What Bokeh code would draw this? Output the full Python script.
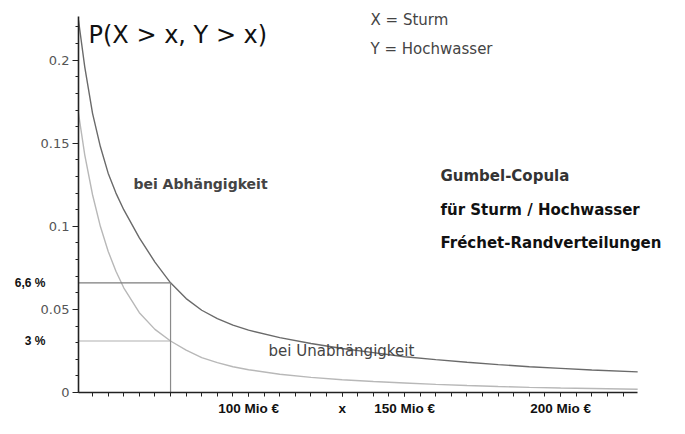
from bokeh.plotting import figure
from bokeh.models import Range1d, FixedTicker, Label, LinearAxis
from bokeh.embed import file_html
from bokeh.resources import INLINE

# Loss level x (Mio €)
x_vals = [45.5, 47.5, 50, 52.5, 55, 57.5, 60, 65, 70, 75, 80, 85, 90, 95, 100,
          110, 120, 130, 140, 150, 160, 170, 180, 190, 200, 210, 224.7]
# P(X > x, Y > x) with dependence (Gumbel copula)
p_dependent = [0.224, 0.196, 0.168, 0.148, 0.132, 0.120, 0.110, 0.093, 0.0785, 0.066,
               0.0565, 0.0495, 0.0445, 0.0405, 0.0375, 0.0330, 0.0295, 0.0265, 0.024, 0.0215,
               0.0198, 0.0182, 0.0168, 0.0155, 0.0145, 0.0135, 0.0124]
# P(X > x, Y > x) under independence
p_independent = [0.168, 0.143, 0.119, 0.100, 0.085, 0.073, 0.063, 0.048, 0.038, 0.031,
                 0.0255, 0.021, 0.018, 0.0155, 0.0137, 0.011, 0.0091, 0.0077, 0.0066, 0.0057,
                 0.0049, 0.0042, 0.0036, 0.0031, 0.0027, 0.0024, 0.002]

x_marker = 75
marker_dep = 0.066
marker_indep = 0.031
marker_labels = {0.066: "6,6 %", 0.031: "3 %"}

x_ticks = [100, 130, 150, 200]
x_tick_labels = ["100 Mio €", "x", "150 Mio €", "200 Mio €"]
y_ticks = [0, 0.05, 0.1, 0.15, 0.2]
y_tick_labels = ["0", "0.05", "0.1", "0.15", "0.2"]

x_start, x_last = 45.5, 224.7
y_top = 0.2265

p = figure(width=669, height=418, output_backend="svg", toolbar_location=None,
           x_range=Range1d(45.5, 234.9), y_range=Range1d(0, 0.2359),
           min_border_left=78, min_border_right=0, min_border_top=0, min_border_bottom=24)
p.outline_line_color = None
p.xgrid.visible = False
p.ygrid.visible = False
p.background_fill_color = "white"

# curves
p.line(x_vals, p_dependent, line_color="#6a6a6a", line_width=1.4)
p.line(x_vals, p_independent, line_color="#b8b8b8", line_width=1.4)

# reference lines
p.line([x_start, x_marker], [marker_dep, marker_dep], line_color="#7c7c7c", line_width=1.2)
p.line([x_start, x_marker], [marker_indep, marker_indep], line_color="#b0b0b0", line_width=1.2)
p.line([x_marker, x_marker], [0, marker_dep], line_color="#8a8a8a", line_width=1.2)

# x axis
xa = p.xaxis[0]
xa.bounds = (x_start, x_last)
xa.ticker = FixedTicker(ticks=x_ticks, minor_ticks=list(range(50, 225, 5)))
xa.major_label_overrides = {t: l for t, l in zip(x_ticks, x_tick_labels)}
xa.axis_line_color = "#222222"
xa.axis_line_width = 1.6
xa.major_tick_line_color = "#222222"
xa.minor_tick_line_color = "#222222"
xa.major_tick_out = 4
xa.major_tick_in = 0
xa.minor_tick_out = 4
xa.minor_tick_in = 0
xa.major_label_text_font = "Liberation Sans"
xa.major_label_text_font_style = "bold"
xa.major_label_text_font_size = "13.5px"
xa.major_label_text_color = "#111111"
xa.major_label_standoff = 4

# y axis
ya = p.yaxis[0]
ya.bounds = (0, y_top)
ya.ticker = FixedTicker(ticks=y_ticks, minor_ticks=[i / 100 for i in range(0, 23)])
ya.major_label_overrides = {t: l for t, l in zip(y_ticks, y_tick_labels)}
ya.axis_line_color = "#222222"
ya.axis_line_width = 1.6
ya.major_tick_line_color = "#222222"
ya.minor_tick_line_color = "#222222"
ya.major_tick_out = 6
ya.major_tick_in = 0
ya.minor_tick_out = 3
ya.minor_tick_in = 0
ya.major_label_text_font = "DejaVu Sans"
ya.major_label_text_font_size = "13px"
ya.major_label_text_color = "#555555"
ya.major_label_standoff = 3

# marker value labels on a second left axis
ma = LinearAxis(ticker=FixedTicker(ticks=list(marker_labels.keys()), minor_ticks=[]),
                major_label_overrides=marker_labels)
ma.axis_line_color = None
ma.major_tick_line_color = None
ma.minor_tick_line_color = None
ma.major_tick_out = 0
ma.major_tick_in = 0
ma.minor_tick_out = 0
ma.major_label_standoff = -8
ma.major_label_text_font = "Liberation Sans"
ma.major_label_text_font_style = "bold"
ma.major_label_text_font_size = "12px"
ma.major_label_text_color = "#111111"
p.add_layout(ma, "left")


def lab(text, x, y, size, color="#222222", style="normal", font="DejaVu Sans"):
    p.add_layout(Label(x=x, y=y, text=text,
                       text_font=font, text_font_size=size, text_color=color,
                       text_font_style=style, text_baseline="middle", text_align="left"))


lab("P(X > x, Y > x)", 48.7, 0.215, "24px", color="#111111")
lab("X = Sturm", 139.1, 0.224, "15px", color="#444444")
lab("Y = Hochwasser", 139.1, 0.2066, "15px", color="#444444")
lab("Gumbel-Copula", 161.5, 0.130, "15px", color="#333333", style="bold")
lab("für Sturm / Hochwasser", 161.5, 0.1096, "15px", color="#111111", style="bold")
lab("Fréchet-Randverteilungen", 161.5, 0.0898, "15px", color="#111111", style="bold")
lab("bei Abhängigkeit", 63.1, 0.1257, "14px", color="#444444", style="bold")
lab("bei Unabhängigkeit", 106.4, 0.0251, "15px", color="#444444")

open("out.html", "w").write(file_html(p, INLINE))
